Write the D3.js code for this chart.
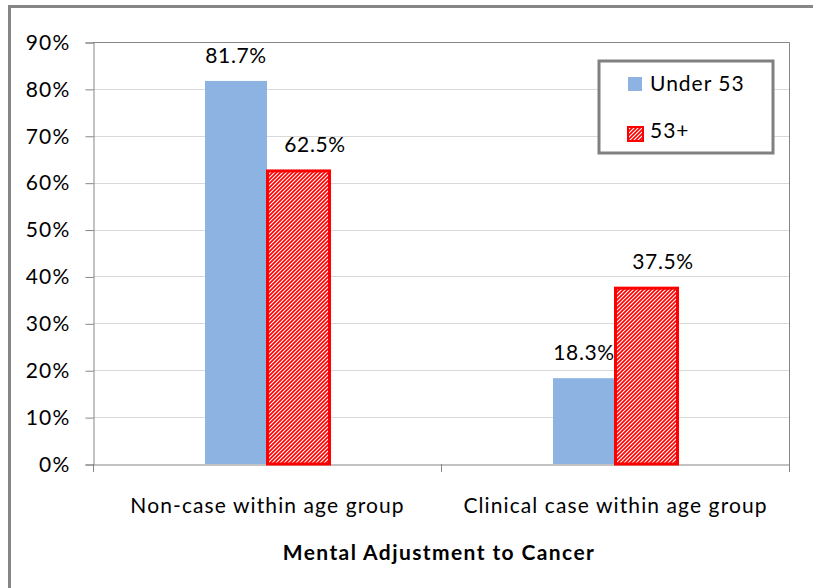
<!DOCTYPE html>
<html>
<head>
<meta charset="utf-8">
<script src="https://cdn.jsdelivr.net/npm/d3@7"></script>
<style>
  html, body { margin: 0; padding: 0; background: #fff; }
  svg { display: block; font-family: Lato, "Open Sans", sans-serif; }
</style>
</head>
<body>
<svg id="chart" width="813" height="588"></svg>
<script>
// Mental adjustment to cancer by age group
const categories = ["Non-case within age group", "Clinical case within age group"];
const seriesNames = ["Under 53", "53+"];
const under53 = [81.7, 18.3];
const over53 = [62.5, 37.5];
const yTicks = [0, 10, 20, 30, 40, 50, 60, 70, 80, 90];
const xTitle = "Mental Adjustment to Cancer";

const svg = d3.select("#chart");
const W = 813, H = 588;
const plot = { left: 93, right: 789, top: 42, bottom: 464 };
const pairWidth = 124;

// hatched fill for the 53+ series
const defs = svg.append("defs");
const pat = defs.append("pattern")
  .attr("id", "hatch")
  .attr("patternUnits", "userSpaceOnUse")
  .attr("width", 4).attr("height", 4);
pat.append("rect").attr("width", 4).attr("height", 4).attr("fill", "#fff");
pat.append("path")
  .attr("d", "M-1,1 L1,-1 M0,4 L4,0 M3,5 L5,3")
  .attr("stroke", "#ff0000").attr("stroke-width", 1.7);

// outer chart frame
svg.append("rect")
  .attr("x", 9.5).attr("y", 6.5)
  .attr("width", W + 20).attr("height", H + 20)
  .attr("fill", "none").attr("stroke", "#868686").attr("stroke-width", 3);

const x0 = d3.scaleBand().domain(categories).range([plot.left, plot.right]);
const x1 = d3.scaleBand().domain(seriesNames).range([0, pairWidth]);
const y = d3.scaleLinear().domain([0, 90]).range([plot.bottom, plot.top]);

// gridlines
svg.append("g")
  .selectAll("line")
  .data(yTicks.filter(t => t > 0 && t < 90))
  .join("line")
  .attr("x1", plot.left).attr("x2", plot.right)
  .attr("y1", d => Math.round(y(d)) + 0.5).attr("y2", d => Math.round(y(d)) + 0.5)
  .attr("stroke", "#d9d9d9").attr("stroke-width", 1);

// plot area border (top and right)
svg.append("path")
  .attr("d", `M${plot.left},${Math.round(y(90)) + 0.5} H${plot.right + 0.5} V${plot.bottom}`)
  .attr("fill", "none").attr("stroke", "#868686").attr("stroke-width", 1);

// y axis
const yAxis = svg.append("g")
  .attr("transform", `translate(${plot.left + 0.5},0.5)`)
  .call(d3.axisLeft(y).tickValues(yTicks).tickFormat(d => d + "%").tickSize(8).tickPadding(15));
yAxis.select(".domain").attr("stroke", "#868686");
yAxis.selectAll(".tick line").attr("stroke", "#868686");
yAxis.selectAll(".tick text")
  .attr("font-family", "Lato, sans-serif")
  .attr("font-size", 21).attr("letter-spacing", 1.2).attr("fill", "#000");

// x axis
const xAxis = svg.append("g")
  .attr("transform", `translate(0.5,${plot.bottom + 0.5})`)
  .call(d3.axisBottom(x0).tickSize(0).tickPadding(34));
xAxis.select(".domain").attr("stroke", "#868686");
xAxis.selectAll(".tick text")
  .attr("font-family", "Lato, sans-serif")
  .attr("font-size", 21).attr("letter-spacing", 1.1).attr("fill", "#000");
// category separators
svg.append("g")
  .selectAll("line")
  .data([plot.left, ...categories.map(c => x0(c) + x0.bandwidth())])
  .join("line")
  .attr("x1", d => Math.round(d) + 0.5).attr("x2", d => Math.round(d) + 0.5)
  .attr("y1", plot.bottom).attr("y2", plot.bottom + 8)
  .attr("stroke", "#868686");

// bars
const rows = categories.map((c, i) => ({ cat: c, vals: [under53[i], over53[i]] }));
const groups = svg.append("g").selectAll("g")
  .data(rows).join("g")
  .attr("transform", d => `translate(${x0(d.cat) + (x0.bandwidth() - pairWidth) / 2},0)`);

groups.append("rect")
  .attr("x", x1("Under 53"))
  .attr("y", d => y(d.vals[0]))
  .attr("width", x1.bandwidth())
  .attr("height", d => y(0) - y(d.vals[0]))
  .attr("fill", "#8db3e2");

groups.append("rect")
  .attr("x", x1("53+") + 0.5)
  .attr("y", d => y(d.vals[1]))
  .attr("width", x1.bandwidth())
  .attr("height", d => y(0) - y(d.vals[1]))
  .attr("fill", "url(#hatch)")
  .attr("stroke", "#ff0000").attr("stroke-width", 3);

// value labels
groups.append("text")
  .attr("x", x1("Under 53") + x1.bandwidth() / 2)
  .attr("y", d => y(d.vals[0]) - 18)
  .attr("text-anchor", "middle")
  .attr("font-size", 21).attr("letter-spacing", 0.6)
  .text(d => d.vals[0].toFixed(1) + "%");
groups.append("text")
  .attr("x", x1("53+") + x1.bandwidth() / 2 + 17)
  .attr("y", d => y(d.vals[1]) - 19)
  .attr("text-anchor", "middle")
  .attr("font-size", 21).attr("letter-spacing", 0.6)
  .text(d => d.vals[1].toFixed(1) + "%");

// axis title
svg.append("text")
  .attr("x", 439)
  .attr("y", 560)
  .attr("text-anchor", "middle")
  .attr("font-size", 21).attr("font-weight", "bold").attr("letter-spacing", 1.4)
  .text(xTitle);

// legend
const lg = svg.append("g");
lg.append("rect")
  .attr("x", 599).attr("y", 61).attr("width", 174).attr("height", 92)
  .attr("fill", "#fff").attr("stroke", "#808080").attr("stroke-width", 3);
lg.append("rect")
  .attr("x", 628).attr("y", 77).attr("width", 14).attr("height", 14)
  .attr("fill", "#8db3e2");
lg.append("rect")
  .attr("x", 628).attr("y", 127).attr("width", 15).attr("height", 14)
  .attr("fill", "url(#hatch)").attr("stroke", "#ff0000").attr("stroke-width", 2);
lg.selectAll("text.item")
  .data(seriesNames)
  .join("text")
  .attr("class", "item")
  .attr("x", 650)
  .attr("y", (d, i) => 91 + i * 47)
  .attr("font-size", 21).attr("letter-spacing", 1)
  .text(d => d);
</script>
</body>
</html>
